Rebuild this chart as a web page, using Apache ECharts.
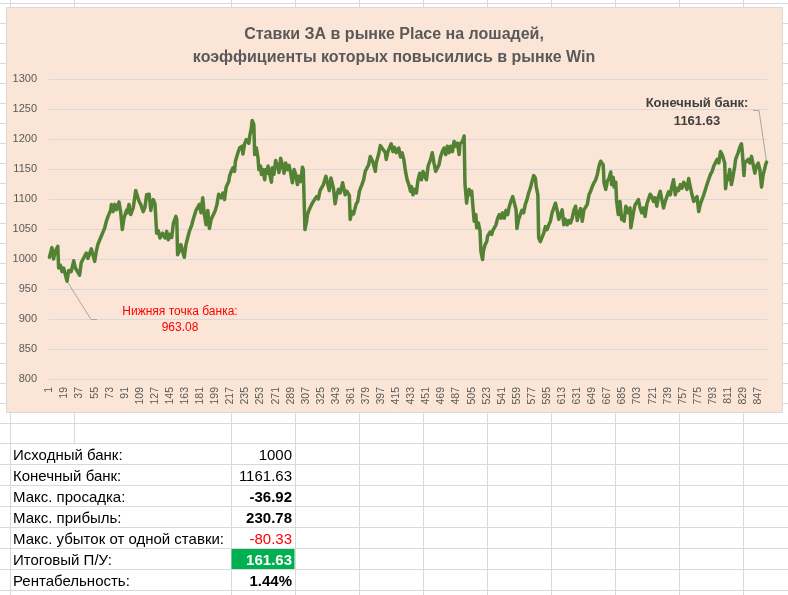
<!DOCTYPE html>
<html>
<head>
<meta charset="utf-8">
<script src="https://cdn.jsdelivr.net/npm/echarts@6/dist/echarts.min.js"></script>
<style>
  html, body { margin: 0; padding: 0; background: #fff; }
  #chart { width: 788px; height: 595px; }
</style>
</head>
<body>
<div id="chart"></div>
<script>
// число ставок (категории оси X)
const betCount = 857
const betNumbers = Array.from({ length: betCount }, (_, i) => String(i + 1))

const bankPoints = [
  [1, 1003], [4, 1019], [6, 1000], [8, 1013], [11, 1021], [12, 985], [14, 990], [16, 979], [18, 985], [20, 974],
  [22, 963.08], [24, 981], [27, 979], [30, 997], [32, 985], [34, 988], [37, 973], [39, 994], [42, 1002], [43, 999],
  [45, 1010], [47, 1001], [51, 1017], [53, 1015], [55, 996], [57, 1013], [59, 1025], [62, 1035], [64, 1038], [67, 1052],
  [69, 1063], [71, 1071], [74, 1081], [75, 1091], [77, 1079], [79, 1091], [81, 1082], [84, 1095], [86, 1079], [88, 1049],
  [90, 1068], [93, 1081], [94, 1077], [96, 1091], [98, 1074], [101, 1085], [104, 1114], [106, 1116], [108, 1096], [110, 1091],
  [113, 1079], [115, 1086], [117, 1107], [120, 1108], [122, 1081], [123, 1091], [125, 1099], [127, 1092], [129, 1043], [131, 1047],
  [133, 1035], [136, 1043], [139, 1035], [141, 1046], [143, 1032], [145, 1041], [147, 1036], [149, 1060], [152, 1071], [153, 1066],
  [154, 1007], [156, 1013], [158, 1024], [160, 1013], [162, 1003], [164, 1024], [166, 1035], [168, 1046], [171, 1057], [173, 1068],
  [176, 1081], [178, 1081], [180, 1091], [182, 1077], [184, 1102], [186, 1074], [188, 1057], [190, 1081], [192, 1051], [194, 1066],
  [196, 1068], [199, 1081], [201, 1091], [203, 1108], [206, 1102], [208, 1110], [210, 1099], [212, 1120], [215, 1129], [216, 1138],
  [218, 1146], [220, 1152], [222, 1146], [223, 1163], [226, 1177], [228, 1185], [231, 1188], [232, 1175], [234, 1192], [236, 1199],
  [239, 1193], [240, 1204], [242, 1218], [243, 1230.78], [245, 1224], [246, 1174], [248, 1185], [250, 1168], [251, 1149], [253, 1155],
  [254, 1141], [256, 1149], [258, 1132], [259, 1149], [261, 1143], [262, 1155], [264, 1141], [266, 1128], [267, 1152], [269, 1141],
  [271, 1164], [274, 1152], [275, 1144], [277, 1168], [279, 1157], [281, 1143], [283, 1160], [285, 1149], [287, 1156], [289, 1143],
  [291, 1127], [293, 1149], [295, 1141], [297, 1124], [299, 1138], [301, 1129], [303, 1153], [304, 1149], [306, 1049], [308, 1063],
  [309, 1074], [311, 1082], [312, 1079], [314, 1091], [316, 1096], [318, 1093], [320, 1104], [322, 1100], [324, 1114], [326, 1112],
  [328, 1124], [331, 1138], [333, 1140], [335, 1114], [337, 1135], [339, 1138], [340, 1118], [342, 1092], [344, 1107], [346, 1116],
  [348, 1110], [351, 1127], [352, 1127], [354, 1107], [356, 1113], [359, 1106], [360, 1066], [362, 1079], [364, 1075], [367, 1091],
  [369, 1096], [371, 1113], [374, 1124], [376, 1132], [378, 1146], [380, 1143], [382, 1157], [384, 1171], [386, 1174], [387, 1162],
  [390, 1146], [391, 1160], [394, 1175], [396, 1189], [398, 1185], [400, 1188], [402, 1177], [403, 1166], [405, 1179], [407, 1182],
  [409, 1192], [411, 1179], [413, 1186], [415, 1177], [418, 1185], [420, 1170], [422, 1177], [424, 1166], [426, 1146], [428, 1132],
  [430, 1124], [432, 1113], [433, 1121], [435, 1107], [437, 1116], [439, 1110], [441, 1132], [443, 1143], [445, 1132], [447, 1146],
  [449, 1138], [451, 1132], [453, 1155], [456, 1166], [458, 1177], [460, 1160], [462, 1146], [464, 1146], [466, 1157], [468, 1171],
  [470, 1179], [472, 1185], [474, 1174], [476, 1188], [478, 1177], [480, 1188], [482, 1179], [484, 1196], [486, 1188], [488, 1193],
  [490, 1174], [491, 1192], [494, 1196], [496, 1205], [497, 1125], [499, 1093], [500, 1107], [502, 1116], [503, 1107], [505, 1113],
  [507, 1079], [508, 1063], [510, 1074], [511, 1052], [513, 1060], [515, 1046], [516, 1013], [518, 999], [519, 1013], [521, 1024],
  [523, 1029], [524, 1038], [526, 1035], [527, 1045], [529, 1041], [530, 1047], [532, 1046], [534, 1057], [536, 1068], [538, 1074],
  [540, 1068], [542, 1077], [544, 1068], [546, 1081], [548, 1074], [550, 1088], [552, 1097], [554, 1104], [556, 1106], [558, 1082],
  [559, 1051], [561, 1066], [563, 1074], [565, 1081], [567, 1077], [569, 1091], [571, 1099], [573, 1110], [575, 1118], [577, 1129],
  [579, 1139], [581, 1135], [582, 1121], [584, 1107], [585, 1035], [587, 1029], [589, 1027], [591, 1043], [593, 1054], [595, 1049],
  [597, 1057], [599, 1063], [601, 1077], [603, 1085], [605, 1093], [607, 1081], [609, 1066], [611, 1074], [613, 1082], [615, 1057],
  [617, 1066], [619, 1057], [621, 1064], [623, 1060], [625, 1068], [627, 1081], [629, 1088], [631, 1064], [633, 1077], [635, 1084],
  [637, 1063], [639, 1082], [641, 1081], [643, 1091], [645, 1107], [647, 1113], [649, 1121], [651, 1127], [653, 1132], [655, 1141],
  [657, 1155], [659, 1163], [661, 1166], [662, 1157], [663, 1127], [665, 1116], [667, 1130], [669, 1135], [671, 1145], [672, 1124],
  [674, 1136], [675, 1120], [677, 1128], [678, 1096], [680, 1074], [682, 1096], [684, 1066], [686, 1071], [687, 1063], [689, 1088],
  [690, 1091], [692, 1077], [694, 1085], [695, 1052], [697, 1068], [698, 1077], [700, 1090], [702, 1091], [704, 1099], [706, 1085],
  [708, 1077], [710, 1085], [712, 1071], [714, 1091], [716, 1088], [718, 1108], [720, 1104], [722, 1096], [724, 1102], [726, 1088],
  [728, 1104], [730, 1113], [732, 1099], [734, 1085], [736, 1096], [738, 1099], [740, 1112], [742, 1107], [744, 1121], [746, 1132],
  [748, 1107], [750, 1118], [752, 1114], [754, 1124], [756, 1118], [758, 1128], [760, 1124], [762, 1116], [764, 1134], [766, 1120],
  [768, 1107], [770, 1096], [772, 1093], [774, 1104], [776, 1079], [778, 1092], [780, 1093], [782, 1107], [784, 1116], [786, 1125],
  [788, 1124], [790, 1141], [792, 1146], [794, 1155], [796, 1158], [798, 1166], [800, 1160], [802, 1179], [804, 1174], [805, 1177],
  [807, 1160], [808, 1117], [810, 1138], [811, 1132], [813, 1149], [815, 1124], [817, 1138], [819, 1155], [820, 1166], [822, 1166],
  [823, 1177], [825, 1186], [827, 1192], [828, 1179], [830, 1139], [831, 1160], [833, 1157], [835, 1166], [837, 1160], [839, 1171],
  [841, 1174], [843, 1143], [845, 1155], [847, 1160], [849, 1149], [851, 1120], [853, 1141], [854, 1146], [856, 1158], [857, 1161.63]
]

// подписи точек
const lowBet = 22
const lowBank = 963.08
const endBet = 857
const endBank = 1161.63

// таблица итогов
const statLabels = ['Исходный банк:', 'Конечный банк:', 'Макс. просадка:', 'Макс. прибыль:',
  'Макс. убыток от одной ставки:', 'Итоговый П/У:', 'Рентабельность:']
const statValues = ['1000', '1161.63', '-36.92', '230.78', '-80.33', '161.63', '1.44%']

const chart = echarts.init(document.getElementById('chart'))
const font = 'Liberation Sans, Arial, sans-serif'

const option = {
  animation: false,
  backgroundColor: '#fff',
  title: {
    text: 'Ставки ЗА в рынке Place на лошадей,\nкоэффициенты которых повысились в рынке Win',
    left: 'center',
    top: 18,
    textStyle: { color: '#595959', fontSize: 16, fontWeight: 'bold', fontFamily: font, lineHeight: 23 }
  },
  grid: { left: 49, right: 21, top: 79, bottom: 216, containLabel: false },
  xAxis: {
    type: 'category',
    data: betNumbers,
    boundaryGap: true,
    axisLine: { lineStyle: { color: '#d9d9d9' } },
    axisTick: { show: false },
    axisLabel: { interval: 17, rotate: 90, margin: 8, color: '#595959', fontSize: 10.5, fontFamily: font }
  },
  yAxis: {
    type: 'value',
    min: 800,
    max: 1300,
    interval: 50,
    axisLine: { show: false },
    axisTick: { show: false },
    axisLabel: { color: '#595959', fontSize: 11, margin: 12, fontFamily: font, formatter: v => String(v) },
    splitLine: { lineStyle: { color: '#d9d9d9' } }
  },
  series: [{
    type: 'line',
    data: bankPoints.map(p => [p[0] - 1, p[1]]),
    showSymbol: false,
    lineStyle: { color: '#548235', width: 3.5, cap: 'round', join: 'round' },
    z: 5
  }]
}
chart.setOption(option)

// фон листа, область диаграммы, подписи и таблица
const colX = [10, 74, 231, 295, 359, 423, 487, 551, 615, 679, 743]
const rowY = []
for (let y = 3; y <= 443; y += 20) rowY.push(y)
const tableTop = 443
const rowH = 21
for (let i = 1; i <= 7; i++) rowY.push(tableTop + i * rowH)

const g = []
rowY.forEach(y => {
  g.push({ type: 'line', z: -20, shape: { x1: 0, y1: y + 0.5, x2: 788, y2: y + 0.5 }, style: { stroke: '#d9d9d9', lineWidth: 1 } })
})
colX.forEach(x => {
  const y2 = (x === 74) ? tableTop : 595
  g.push({ type: 'line', z: -20, shape: { x1: x + 0.5, y1: 0, x2: x + 0.5, y2: y2 }, style: { stroke: '#d9d9d9', lineWidth: 1 } })
})
g.push({ type: 'rect', z: -10, shape: { x: 6.5, y: 7.5, width: 776, height: 405 }, style: { fill: '#FBE5D6', stroke: '#d9d9d9', lineWidth: 1 } })

// выноски
const lowPt = chart.convertToPixel({ gridIndex: 0 }, [lowBet - 1, lowBank])
const endPt = chart.convertToPixel({ gridIndex: 0 }, [endBet - 1, endBank])
g.push({ type: 'polyline', z: 3, shape: { points: [lowPt, [91, 319.5], [97, 319.5]] }, style: { stroke: '#a6a6a6', lineWidth: 1, fill: null } })
g.push({ type: 'polyline', z: 3, shape: { points: [[753, 110.5], [759, 110.5], endPt] }, style: { stroke: '#a6a6a6', lineWidth: 1, fill: null } })
g.push({ type: 'text', z: 10, style: { x: 180, y: 312, text: 'Нижняя точка банка:', fill: '#ff0000', font: '12px ' + font, align: 'center', verticalAlign: 'middle' } })
g.push({ type: 'text', z: 10, style: { x: 180, y: 328, text: lowBank.toFixed(2), fill: '#ff0000', font: '12px ' + font, align: 'center', verticalAlign: 'middle' } })
g.push({ type: 'text', z: 10, style: { x: 697, y: 103, text: 'Конечный банк:', fill: '#404040', font: 'bold 13px ' + font, align: 'center', verticalAlign: 'middle' } })
g.push({ type: 'text', z: 10, style: { x: 697, y: 121, text: endBank.toFixed(2), fill: '#404040', font: 'bold 13px ' + font, align: 'center', verticalAlign: 'middle' } })

// таблица итогов
const valueStyle = [
  { fill: '#000', bold: false }, { fill: '#000', bold: false }, { fill: '#000', bold: true },
  { fill: '#000', bold: true }, { fill: '#ff0000', bold: false }, { fill: '#fff', bold: true },
  { fill: '#000', bold: true }
]
g.push({ type: 'rect', z: -5, shape: { x: 231.5, y: tableTop + 5 * rowH + 1, width: 63, height: rowH - 1 }, style: { fill: '#00B050' } })
statLabels.forEach((label, i) => {
  const cy = tableTop + i * rowH + 13
  g.push({ type: 'text', z: 10, style: { x: 13, y: cy, text: label, fill: '#000', font: '15px ' + font, align: 'left', verticalAlign: 'middle' } })
  const st = valueStyle[i]
  g.push({ type: 'text', z: 10, style: { x: 292, y: cy, text: statValues[i], fill: st.fill, font: (st.bold ? 'bold ' : '') + '15px ' + font, align: 'right', verticalAlign: 'middle' } })
})

chart.setOption({ graphic: g })
</script>
</body>
</html>
